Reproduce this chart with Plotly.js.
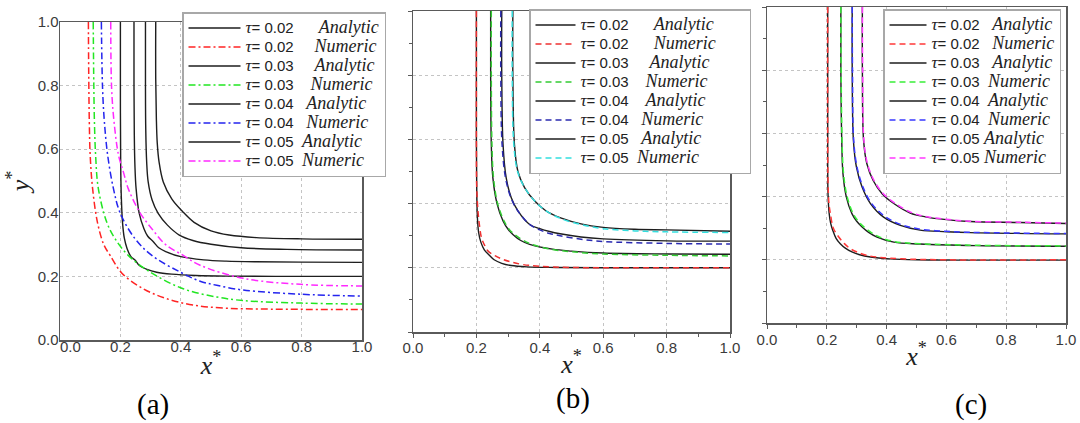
<!DOCTYPE html>
<html>
<head>
<meta charset="utf-8">
<script src="https://cdn.plot.ly/plotly-3.0.1.min.js"></script>
<style>html,body{margin:0;padding:0;background:#fff;}#chart{width:1080px;height:423px;}</style>
</head>
<body>
<div id="chart"></div>
<script>
// ---------------- DATA ----------------
const tauLabels = ['0.02', '0.03', '0.04', '0.05'];
const kindLabels = ['Analytic', 'Numeric'];
const axisTicks = [0.0, 0.2, 0.4, 0.6, 0.8, 1.0];

// Panel (a) analytic
const aAna1X = [0.200,0.200,0.201,0.203,0.207,0.213,0.222,0.235,0.250,0.262,0.288,0.320,0.370,0.450,0.550,0.750,1.000];
const aAna1Y = [1.000,0.750,0.550,0.450,0.370,0.320,0.288,0.262,0.250,0.235,0.222,0.213,0.207,0.203,0.201,0.200,0.200];
const aAna2X = [0.245,0.245,0.246,0.248,0.252,0.262,0.278,0.290,0.309,0.327,0.350,0.400,0.476,0.550,0.650,0.800,1.000];
const aAna2Y = [1.000,0.800,0.650,0.550,0.476,0.400,0.350,0.327,0.309,0.290,0.278,0.262,0.252,0.248,0.246,0.245,0.244];
const aAna3X = [0.283,0.283,0.284,0.287,0.292,0.305,0.325,0.355,0.395,0.440,0.500,0.600,0.750,1.000];
const aAna3Y = [1.000,0.800,0.660,0.560,0.497,0.440,0.398,0.362,0.330,0.313,0.301,0.290,0.285,0.283];
const aAna4X = [0.317,0.317,0.319,0.322,0.328,0.342,0.370,0.405,0.444,0.500,0.560,0.650,0.800,1.000];
const aAna4Y = [1.000,0.820,0.700,0.620,0.560,0.497,0.444,0.405,0.370,0.343,0.330,0.322,0.318,0.317];
// Panel (a) numeric
const aNum1X = [0.094,0.095,0.097,0.100,0.108,0.124,0.145,0.166,0.205,0.276,0.353,0.440,0.550,0.700,1.000];
const aNum1Y = [1.000,0.850,0.690,0.580,0.476,0.370,0.300,0.266,0.210,0.161,0.130,0.110,0.100,0.097,0.096];
const aNum2X = [0.110,0.112,0.114,0.118,0.127,0.155,0.182,0.226,0.298,0.408,0.520,0.607,0.800,1.000];
const aNum2Y = [1.000,0.800,0.686,0.580,0.476,0.370,0.319,0.266,0.214,0.161,0.135,0.124,0.116,0.113];
const aNum3X = [0.137,0.141,0.147,0.158,0.177,0.199,0.248,0.304,0.397,0.464,0.519,0.607,0.795,1.000];
const aNum3Y = [1.000,0.790,0.686,0.580,0.476,0.400,0.319,0.266,0.214,0.185,0.172,0.157,0.144,0.138];
const aNum4X = [0.168,0.171,0.179,0.194,0.210,0.226,0.265,0.304,0.350,0.408,0.464,0.607,0.795,1.000];
const aNum4Y = [1.000,0.790,0.686,0.580,0.528,0.476,0.400,0.350,0.300,0.266,0.235,0.194,0.175,0.170];

// Panel (b) analytic
const bAna1X = [0.200,0.200,0.201,0.203,0.207,0.214,0.225,0.240,0.256,0.280,0.310,0.360,0.450,0.600,1.000];
const bAna1Y = [1.000,0.600,0.450,0.360,0.310,0.280,0.256,0.240,0.225,0.214,0.207,0.203,0.201,0.200,0.200];
const bAna2X = [0.245,0.245,0.247,0.252,0.265,0.284,0.300,0.315,0.340,0.368,0.440,0.500,0.600,0.800,1.000];
const bAna2Y = [1.000,0.800,0.585,0.480,0.400,0.346,0.320,0.304,0.285,0.273,0.258,0.252,0.246,0.243,0.242];
const bAna3X = [0.280,0.280,0.284,0.294,0.310,0.331,0.368,0.400,0.431,0.464,0.530,0.600,0.800,1.000];
const bAna3Y = [1.000,0.800,0.585,0.480,0.418,0.377,0.335,0.322,0.313,0.306,0.296,0.290,0.284,0.283];
const bAna4X = [0.315,0.315,0.320,0.331,0.352,0.384,0.420,0.468,0.530,0.600,0.700,0.800,1.000];
const bAna4Y = [1.000,0.800,0.585,0.500,0.450,0.408,0.377,0.355,0.337,0.326,0.320,0.318,0.314];
// Panel (b) numeric
const bNum1X = [0.200,0.200,0.201,0.205,0.210,0.216,0.226,0.237,0.260,0.284,0.310,0.347,0.400,0.500,0.700,1.000];
const bNum1Y = [1.000,0.600,0.450,0.377,0.330,0.294,0.270,0.252,0.237,0.226,0.218,0.210,0.205,0.201,0.200,0.200];
const bNum2X = [0.247,0.247,0.249,0.254,0.267,0.287,0.303,0.320,0.345,0.375,0.440,0.500,0.600,0.800,1.000];
const bNum2Y = [1.000,0.800,0.585,0.480,0.400,0.346,0.320,0.304,0.287,0.273,0.257,0.250,0.243,0.239,0.237];
const bNum3X = [0.277,0.277,0.281,0.292,0.309,0.331,0.368,0.400,0.431,0.464,0.530,0.600,0.800,1.000];
const bNum3Y = [1.000,0.800,0.585,0.480,0.418,0.377,0.335,0.318,0.307,0.300,0.289,0.282,0.276,0.274];
const bNum4X = [0.313,0.313,0.318,0.330,0.352,0.384,0.420,0.470,0.530,0.600,0.700,0.800,1.000];
const bNum4Y = [1.000,0.800,0.585,0.500,0.450,0.408,0.377,0.352,0.335,0.322,0.315,0.312,0.310];

// Panel (c) analytic
const cAna1X = [0.203,0.203,0.203,0.204,0.208,0.213,0.220,0.231,0.245,0.262,0.284,0.310,0.346,0.410,0.500,0.700,1.000];
const cAna1Y = [1.000,0.700,0.500,0.410,0.346,0.315,0.293,0.268,0.251,0.237,0.225,0.216,0.209,0.203,0.200,0.199,0.199];
const cAna2X = [0.247,0.247,0.250,0.254,0.265,0.284,0.300,0.318,0.340,0.368,0.424,0.512,0.700,1.000];
const cAna2Y = [1.000,0.800,0.578,0.473,0.400,0.346,0.322,0.304,0.287,0.272,0.256,0.250,0.245,0.243];
const cAna3X = [0.285,0.285,0.289,0.299,0.318,0.346,0.390,0.446,0.512,0.600,0.680,1.000];
const cAna3Y = [1.000,0.800,0.578,0.494,0.430,0.378,0.335,0.309,0.294,0.289,0.286,0.282];
const cAna4X = [0.319,0.319,0.323,0.334,0.355,0.385,0.424,0.479,0.530,0.600,0.680,0.846,1.000];
const cAna4Y = [1.000,0.800,0.578,0.504,0.451,0.409,0.378,0.348,0.336,0.327,0.321,0.318,0.315];
// Panel (c) numeric
const cNum1X = [0.203,0.203,0.204,0.207,0.212,0.222,0.240,0.258,0.279,0.305,0.334,0.380,0.450,0.600,1.000];
const cNum1Y = [1.000,0.600,0.450,0.380,0.346,0.300,0.272,0.252,0.235,0.223,0.214,0.207,0.203,0.200,0.200];
const cNum2X = [0.247,0.248,0.251,0.256,0.268,0.288,0.305,0.323,0.345,0.372,0.424,0.512,0.700,1.000];
const cNum2Y = [1.000,0.800,0.578,0.473,0.400,0.346,0.322,0.305,0.289,0.274,0.258,0.251,0.246,0.244];
const cNum3X = [0.285,0.286,0.290,0.301,0.321,0.350,0.395,0.450,0.512,0.600,0.680,1.000];
const cNum3Y = [1.000,0.800,0.578,0.494,0.430,0.378,0.337,0.311,0.297,0.290,0.287,0.283];
const cNum4X = [0.319,0.320,0.324,0.336,0.358,0.389,0.428,0.482,0.530,0.600,0.680,0.846,1.000];
const cNum4Y = [1.000,0.800,0.578,0.504,0.451,0.409,0.379,0.350,0.337,0.328,0.322,0.319,0.316];

// ---------------- STYLE ----------------
const W = 1080, H = 423;
const px = v => v / W;
const py = v => 1 - v / H;
const NB = '\u00a0';

const panels = [
  {ana: [[aAna1X,aAna1Y],[aAna2X,aAna2Y],[aAna3X,aAna3Y],[aAna4X,aAna4Y]],
   num: [[aNum1X,aNum1Y],[aNum2X,aNum2Y],[aNum3X,aNum3Y],[aNum4X,aNum4Y]],
   colors: ['#ff2424','#22e622','#2424ee','#ff2aff'], dash: '7px,3px,2px,3px',
   xa: 'x', ya: 'y', legend: 'legend', gaps: [6,5,5,4,3,3,2,2], pad: ''},
  {ana: [[bAna1X,bAna1Y],[bAna2X,bAna2Y],[bAna3X,bAna3Y],[bAna4X,bAna4Y]],
   num: [[bNum1X,bNum1Y],[bNum2X,bNum2Y],[bNum3X,bNum3Y],[bNum4X,bNum4Y]],
   colors: ['#ee3030','#33cc33','#2a2ab0','#33dede'], dash: '6px,4px',
   xa: 'x2', ya: 'y2', legend: 'legend2', gaps: [6,6,5,4,4,3,3,2], pad: 'MMM'},
  {ana: [[cAna1X,cAna1Y],[cAna2X,cAna2Y],[cAna3X,cAna3Y],[cAna4X,cAna4Y]],
   num: [[cNum1X,cNum1Y],[cNum2X,cNum2Y],[cNum3X,cNum3Y],[cNum4X,cNum4Y]],
   colors: ['#ff3838','#38ee38','#3838ff','#ff38ff'], dash: '6px,4px',
   xa: 'x3', ya: 'y3', legend: 'legend3', gaps: [3,3,3,2,2,2,1,1], pad: ''}
];

function entryName(tau, kind, gap, pad) {
  let s = '<span style="font-family:Liberation Serif;font-size:17px"><i>τ</i></span>' +
          '<span style="font-size:15px">= ' + tau + NB.repeat(gap) + '</span>' +
          '<span style="font-family:Liberation Serif;font-size:18px"><i>' + kind + '</i></span>';
  if (pad) s += '<span style="font-size:12px;fill-opacity:0">' + pad + '</span>';
  return s;
}

const traces = [];
panels.forEach(p => {
  for (let i = 0; i < tauLabels.length; i++) {
    traces.push({
      type: 'scatter', mode: 'lines', x: p.ana[i][0], y: p.ana[i][1],
      xaxis: p.xa, yaxis: p.ya, legend: p.legend,
      name: entryName(tauLabels[i], kindLabels[0], p.gaps[2*i], i === 0 ? p.pad : ''),
      line: {color: '#1e1e1e', width: 1.4, shape: 'spline', smoothing: 1},
      hoverinfo: 'skip'
    });
    traces.push({
      type: 'scatter', mode: 'lines', x: p.num[i][0], y: p.num[i][1],
      xaxis: p.xa, yaxis: p.ya, legend: p.legend,
      name: entryName(tauLabels[i], kindLabels[1], p.gaps[2*i+1], ''),
      line: {color: p.colors[i], width: 1.5, dash: p.dash, shape: 'spline', smoothing: 1},
      hoverinfo: 'skip'
    });
  }
});

const tickFont = {family: 'Liberation Sans, Arial, sans-serif', size: 15, color: '#3a3a3a'};
const titleFont = {family: 'Liberation Serif, Times New Roman, serif', size: 26, color: '#222'};
const tickText = axisTicks.map(v => v.toFixed(1));
// panel (a): the 0.0 label of the x axis sits a little right of its tick, as in the source
const tickTextA = tickText.map((t, i) => i === 0 ? NB.repeat(5) + t : t);

function baseAxis(extra) {
  return Object.assign({
    range: [0, 1], autorange: false, showline: true, mirror: true,
    linecolor: '#5a5a5a', linewidth: 1.5, zeroline: false,
    showgrid: true, gridcolor: '#c4c4c4', griddash: 'dot', gridwidth: 1,
    tickmode: 'array', tickvals: axisTicks, ticktext: tickText,
    tickfont: tickFont, fixedrange: true
  }, extra);
}
const minorTicks = {ticks: 'outside', ticklen: 3, dtick: 0.1, tick0: 0, tickcolor: '#5a5a5a', showgrid: false};

const legendBase = {
  bgcolor: '#ffffff', bordercolor: '#a8a8a8', borderwidth: 1.5,
  font: {family: 'Liberation Sans, Arial, sans-serif', size: 12, color: '#222'},
  xanchor: 'left', yanchor: 'top', traceorder: 'normal'
};

const layout = {
  width: W, height: H, autosize: false,
  margin: {l: 0, r: 0, t: 0, b: 0},
  paper_bgcolor: '#ffffff', plot_bgcolor: '#ffffff',
  showlegend: true,
  xaxis: baseAxis({domain: [px(60), px(362)], anchor: 'y', ticks: '', ticklabelstandoff: -8,
    ticktext: tickTextA,
    title: {text: '<i>x</i><sup>*</sup>', font: titleFont, standoff: 2}}),
  yaxis: baseAxis({domain: [py(340), py(22)], anchor: 'x', ticks: '', ticklabelstandoff: -3,
    title: {text: '<i>y</i><sup>*</sup>', font: titleFont, standoff: 0}}),
  xaxis2: baseAxis({domain: [px(413), px(730)], anchor: 'y2', ticks: 'outside', ticklen: 4, tickcolor: '#5a5a5a',
    ticklabelstandoff: -3, minor: minorTicks,
    title: {text: '<i>x</i><sup>*</sup>', font: titleFont, standoff: 0}}),
  yaxis2: baseAxis({domain: [py(332), py(11)], anchor: 'x2', ticks: 'outside', ticklen: 4, tickcolor: '#5a5a5a',
    minor: minorTicks, showticklabels: false}),
  xaxis3: baseAxis({domain: [px(767), px(1066)], anchor: 'y3', ticks: 'outside', ticklen: 4, tickcolor: '#5a5a5a',
    ticklabelstandoff: -2, minor: minorTicks,
    title: {text: '<i>x</i><sup>*</sup>', font: titleFont, standoff: 0}}),
  yaxis3: baseAxis({domain: [py(323), py(7)], anchor: 'x3', ticks: 'outside', ticklen: 4, tickcolor: '#5a5a5a',
    minor: minorTicks, showticklabels: false}),
  legend: Object.assign({}, legendBase, {x: px(182), y: py(12), itemwidth: 52}),
  legend2: Object.assign({}, legendBase, {x: px(529), y: py(9), itemwidth: 40}),
  legend3: Object.assign({}, legendBase, {x: px(883), y: py(9), itemwidth: 37}),
  annotations: [
    {text: '(a)', x: px(153), y: py(404), xref: 'paper', yref: 'paper', showarrow: false,
     xanchor: 'center', yanchor: 'middle', font: {family: 'Liberation Serif, serif', size: 29, color: '#000'}},
    {text: '(b)', x: px(573), y: py(398), xref: 'paper', yref: 'paper', showarrow: false,
     xanchor: 'center', yanchor: 'middle', font: {family: 'Liberation Serif, serif', size: 29, color: '#000'}},
    {text: '(c)', x: px(971), y: py(404), xref: 'paper', yref: 'paper', showarrow: false,
     xanchor: 'center', yanchor: 'middle', font: {family: 'Liberation Serif, serif', size: 29, color: '#000'}}
  ]
};

Plotly.newPlot('chart', traces, layout, {staticPlot: true, displayModeBar: false});
</script>
</body>
</html>
